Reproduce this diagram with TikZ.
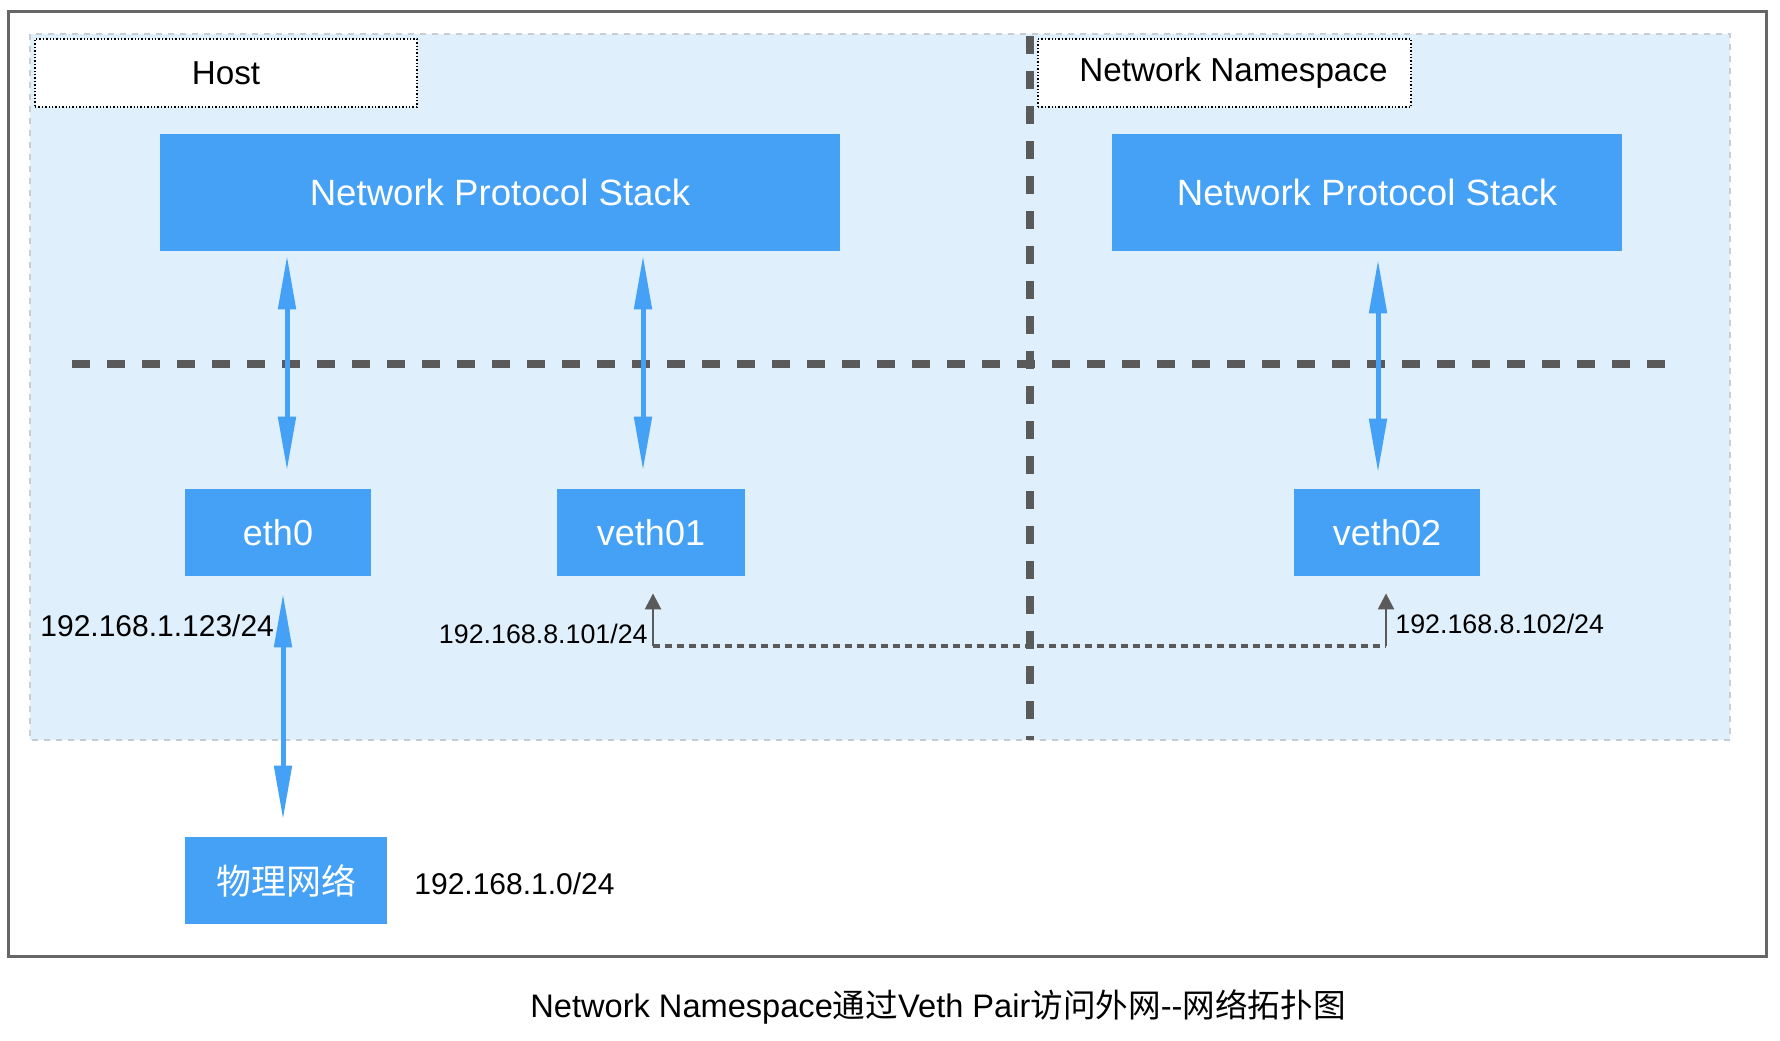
\documentclass[tikz,border=0pt]{standalone}
\usepackage{fontspec}
\setmainfont{Liberation Sans}
\newfontfamily\cjk{Noto Sans CJK SC}
\usetikzlibrary{calc,arrows.meta}
\definecolor{boxblue}{HTML}{44A1F5}
\definecolor{regionfill}{HTML}{E0EFFC}
\definecolor{regionedge}{HTML}{C8CDD3}
\definecolor{darkdash}{HTML}{5A5A5A}
\definecolor{framegray}{HTML}{666666}
\begin{document}
\begin{tikzpicture}[x=0.5pt,y=-0.5pt,
  bluebox/.style={fill=boxblue,draw=none,text=white,inner sep=0pt,align=center},
  lblbox/.style={fill=white,draw=black,densely dotted,line width=0.7pt,inner sep=0pt,font=\fontsize{16.6}{19}\selectfont},
  barrow/.style={draw=boxblue,line width=2.5pt,{Triangle[length=27pt,width=8.5pt]}-{Triangle[length=27pt,width=8.5pt]}},
  garrow/.style={draw=darkdash,line width=1.3pt,-{Triangle[length=8pt,width=8pt]}},
  dotline/.style={draw=darkdash,line width=2pt,dash pattern=on 3.5pt off 2.5pt},
  sepline/.style={draw=darkdash,line width=4pt,dash pattern=on 9pt off 8.5pt},
  iplbl/.style={inner sep=0pt,text=black}]
\useasboundingbox (0,0) rectangle (1780,1040);
% outer frame
\draw[framegray,line width=1.5pt] (8,11) rectangle (1766,956);
% region
\draw[fill=regionfill,draw=regionedge,line width=1pt,dash pattern=on 3pt off 3pt] (30,34) rectangle (1730,740);
% separators
\coordinate (vtop) at (1030,36);
\coordinate (vbot) at (1030,740);
\coordinate (hl) at (72,364);
\coordinate (hr) at (1666,364);
\draw[sepline] (hl) -- (hr);
\draw[sepline] (vtop) -- (vbot);
% labels
\node[lblbox,minimum width=191pt,minimum height=34pt] (host) at (226,73) {Host};
\node[lblbox,minimum width=186.5pt,minimum height=34pt] (nslbl) at (1224.5,73) {\hspace*{9pt}Network Namespace};
% blue boxes
\node[bluebox,minimum width=340pt,minimum height=58.5pt,font=\fontsize{18.3}{22}\selectfont] (nps1) at (500,192.5) {Network Protocol Stack};
\node[bluebox,minimum width=255pt,minimum height=58.5pt,font=\fontsize{18.3}{22}\selectfont] (nps2) at (1367,192.5) {Network Protocol Stack};
\node[bluebox,minimum width=93pt,minimum height=43.5pt,font=\fontsize{18}{22}\selectfont] (eth0) at (278,532.5) {eth0};
\node[bluebox,minimum width=94pt,minimum height=43.5pt,font=\fontsize{18}{22}\selectfont] (veth01) at (651,532.5) {veth01};
\node[bluebox,minimum width=93pt,minimum height=43.5pt,font=\fontsize{18}{22}\selectfont] (veth02) at (1387,532.5) {veth02};
\node[bluebox,minimum width=101pt,minimum height=43.5pt,font=\cjk\fontsize{17.5}{22}\selectfont] (phys) at (286,880.5) {物理网络};
% blue arrows
\draw[barrow] ($(eth0.north |- nps1.south)+(9,4)$) -- ($(eth0.north)+(9,-18)$);
\draw[barrow] ($(veth01.north |- nps1.south)+(-8,4)$) -- ($(veth01.north)+(-8,-18)$);
\draw[barrow] ($(veth02.north |- nps2.south)+(-9,8)$) -- ($(veth02.north)+(-9,-16)$);
\draw[barrow] ($(eth0.south)+(5,17)$) -- ($(eth0.south |- phys.north)+(5,-17)$);
% veth pair link
\coordinate (l1) at ($(veth01.south)+(2,70)$);
\coordinate (l2) at ($(veth02.south)+(-1,70)$);
\draw[dotline] (l1) -- (l2);
\draw[garrow] (l1) -- ($(veth01.south)+(2,17)$);
\draw[garrow] (l2) -- ($(veth02.south)+(-1,17)$);
% ip labels
\node[iplbl,anchor=west,font=\fontsize{15}{18}\selectfont] (ip1) at (40,626) {192.168.1.123/24};
\node[iplbl,anchor=east,font=\fontsize{13.4}{16}\selectfont] (ip2) at (648,634) {192.168.8.101/24};
\node[iplbl,anchor=west,font=\fontsize{13.4}{16}\selectfont] (ip3) at (1395,624) {192.168.8.102/24};
\node[iplbl,anchor=west,font=\fontsize{15}{18}\selectfont] (ip4) at (414,884) {192.168.1.0/24};
% caption
\node[iplbl,font=\fontsize{16.3}{20}\selectfont] (cap) at (938,1007) {Network Namespace{\cjk 通过}Veth Pair{\cjk 访问外网}-{}-{\cjk 网络拓扑图}};
\end{tikzpicture}
\end{document}
